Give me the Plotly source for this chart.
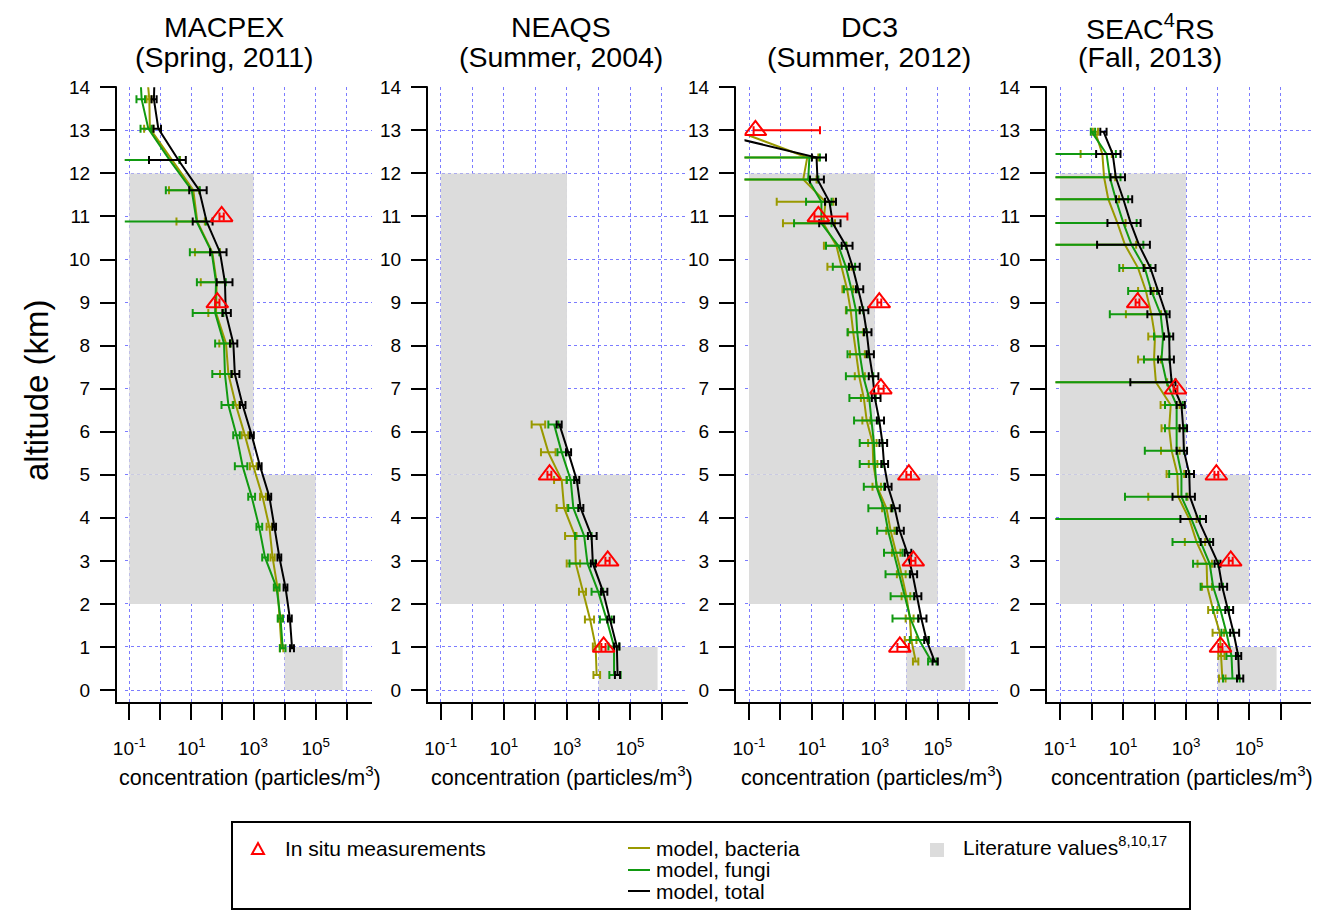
import plotly.graph_objects as go

W, H = 1319, 911

# ---------------- axis ticks ----------------
decade_vals = [0.1, 1, 10, 100, 1e3, 1e4, 1e5, 1e6]
decade_text = ["10<sup>-1</sup>", "", "10<sup>1</sup>", "", "10<sup>3</sup>", "",
               "10<sup>5</sup>", ""]
alt_ticks = list(range(0, 15))

# ---------------- literature ranges (same in every panel) ----------------
lit_x_lo = [0.1, 0.1, 1e4]
lit_x_hi = [1e3, 1e5, 7.4e5]
lit_y_lo = [5, 2, 0]
lit_y_hi = [12, 5, 1]

campaign_names = ["MACPEX", "NEAQS", "DC3", "SEAC<sup>4</sup>RS"]
campaign_seasons = ["(Spring, 2011)", "(Summer, 2004)", "(Summer, 2012)", "(Fall, 2013)"]

# ---------------- MACPEX ----------------
macpex_alt = [0.97, 1.66, 2.38, 3.08, 3.79, 4.49, 5.20, 5.92, 6.62, 7.34,
              8.05, 8.76, 9.47, 10.17, 10.88, 11.61, 12.31, 13.04, 13.72, 14.43]
macpex_bact = [8000, 7060, 5900, 4100, 3230, 1950, 980, 525, 270, 155,
               130, 62, 65, 47, 15.5, 11.5, 2.3, 0.46, 0.44, 0.36]
macpex_bact_lo = [7000, 6200, 5100, 3500, 2630, 1620, 760, 415, 213, 83,
                  79, 35, 20, 13, 3.3, 1.9, 0, 0.3, 0.36, None]
macpex_bact_hi = [9100, 8000, 6800, 4800, 3900, 2500, 1260, 675, 347, 205,
                  182, 100, 120, 83, 27, 17.8, 4.3, 0.6, 0.52, None]
macpex_fungi = [8700, 7400, 5500, 2340, 1510, 870, 445, 282, 155, 120,
                112, 58, 62, 45, 14.8, 10.2, 2.0, 0.41, 0.25, 0.22]
macpex_fungi_lo = [7100, 6000, 4500, 1900, 1240, 675, 250, 222, 93, 47,
                   58, 11, 15, 8.9, 0, 1.5, 0, 0.23, 0.17, None]
macpex_fungi_hi = [10700, 8900, 6800, 2900, 1900, 1120, 630, 360, 224, 195,
                   182, 107, 128, 79, 29.5, 18.6, 4.1, 0.52, 0.32, None]
macpex_total = [17400, 14800, 10700, 6800, 4690, 3230, 1620, 870, 445, 250,
                224, 128, 120, 83, 31, 17.8, 3.8, 0.86, 0.62, 0.66]
macpex_total_lo = [15000, 12800, 9300, 5900, 4100, 2900, 1420, 760, 365, 195,
                   174, 100, 65, 40, 11, 8.5, 0.43, 0.6, 0.52, None]
macpex_total_hi = [20000, 17000, 12300, 7800, 5300, 3700, 1820, 1020, 550, 350,
                   300, 186, 210, 135, 48, 31, 6.6, 1.05, 0.76, None]
macpex_obs_alt = [11, 9]
macpex_obs = [94, 68]
macpex_obs_lo = [80, 58]
macpex_obs_hi = [110, 80]

# ---------------- NEAQS ----------------
neaqs_alt = [0.35, 1.01, 1.64, 2.28, 2.94, 3.58, 4.23, 4.88, 5.52, 6.17]
neaqs_bact = [8700, 8100, 5400, 3160, 1900, 1800, 810, 680, 257, 141]
neaqs_bact_lo = [6900, 6600, 3700, 2400, 980, 870, 470, 390, 150, 76]
neaqs_bact_hi = [11200, 10700, 7200, 4000, 2600, 2000, 1020, 980, 435, 204]
neaqs_fungi = [31000, 31000, 18000, 9800, 4460, 3500, 1590, 1310, 680, 390]
neaqs_fungi_lo = [22000, 20500, 11000, 6000, 1200, 1800, 1100, 980, 500, 257]
neaqs_fungi_hi = [50000, 45000, 26000, 14000, 7800, 6000, 2300, 1700, 980, 537]
neaqs_total = [40000, 38000, 23000, 14000, 6600, 6000, 2700, 2040, 1100, 575]
neaqs_total_lo = [33000, 31000, 19000, 12000, 5700, 4600, 2300, 1700, 930, 470]
neaqs_total_hi = [48000, 46000, 31000, 19000, 8300, 8700, 3300, 2450, 1350, 680]
neaqs_obs_alt = [5, 3, 1]
neaqs_obs = [280, 19500, 14500]
neaqs_obs_lo = [240, 16500, 12300]
neaqs_obs_hi = [320, 22500, 16700]

# ---------------- DC3 ----------------
dc3_alt = [0.66, 1.16, 1.66, 2.18, 2.69, 3.19, 3.70, 4.22, 4.72, 5.25,
           5.74, 6.26, 6.78, 7.29, 7.80, 8.31, 8.82, 9.31, 9.83, 10.32,
           10.84, 11.34, 11.86, 12.37, 12.88]
dc3_bact = [20000, 14400, 12900, 10000, 7060, 4870, 3160, 2340, 1180, 890,
            850, 550, 445, 317, 250, 205, 170, 131, 87, 60,
            23, 27, 5.3, 7.1, 0.1]
dc3_bact_lo = [16200, 8900, 9500, 7060, 5000, 3480, 2300, 1700, 840, 640,
               610, 400, 360, 230, 162, 141, 120, 93, 31, 24,
               1.2, 0.76, 0, 0, None]
dc3_bact_hi = [24000, 20900, 17000, 13300, 9500, 6500, 4200, 3200, 1560, 1200,
               1130, 720, 590, 480, 480, 427, 330, 205, 180, 126,
               54, 48, 14, 16, None]
dc3_fungi = [63000, 25700, 13500, 8900, 6170, 4080, 2630, 1950, 1120, 1000,
             930, 780, 660, 427, 330, 275, 250, 180, 120, 69,
             20, 20, 7.6, 8.3, None]
dc3_fungi_lo = [49000, 12900, 3630, 3160, 2180, 1950, 1180, 620, 445, 330,
                330, 218, 155, 120, 135, 135, 126, 104, 46, 28,
                2.7, 6.5, 0, 0, None]
dc3_fungi_hi = [91000, 52500, 24000, 17400, 12900, 7600, 4870, 3630, 1950, 1740,
                1740, 1290, 1070, 890, 620, 550, 427, 275, 235, 120,
                42, 42, 16, 18, None]
dc3_total = [80000, 43600, 30000, 22000, 15800, 10700, 6170, 4270, 2630, 1950,
             1740, 1380, 1000, 850, 660, 550, 427, 295, 195, 120,
             46, 36, 15, 14, 0.017]
dc3_total_lo = [68000, 37000, 24000, 18000, 13200, 8900, 5000, 3400, 2100, 1600,
                1400, 1150, 800, 640, 550, 450, 330, 250, 150, 88,
                17, 26, 8.7, 10, None]
dc3_total_hi = [100000, 50000, 43600, 30000, 22000, 14400, 8300, 6170, 3390, 2630,
                2450, 1950, 1510, 1290, 930, 780, 620, 427, 330, 195,
                81, 58, 24, 28, None]
dc3_obs_alt = [13, 11, 9, 7, 5, 3, 1]
dc3_obs = [0.16, 16, 1380, 1550, 12000, 16600, 6200]
dc3_obs_lo = [0.14, 12, 1200, 1300, 10000, 14000, 5200]
dc3_obs_hi = [18, 134, 1600, 1900, 14000, 19500, 12000]

# ---------------- SEAC4RS ----------------
seac4rs_alt = [0.27, 0.79, 1.33, 1.86, 2.40, 2.93, 3.44, 3.97, 4.49, 5.02,
               5.56, 6.08, 6.62, 7.15, 7.68, 8.21, 8.73, 9.27, 9.80, 10.34,
               10.85, 11.40, 11.91, 12.45, 12.97]
seac4rs_bact = [14100, 13200, 11700, 7200, 4680, 4470, 2140, 1260, 560, 525,
                347, 290, 325, 110, 96, 103, 79, 53, 30, 11.5,
                6.6, 3.4, 2.5, 2.2, 1.3]
seac4rs_bact_lo = [11000, 10500, 6900, 5000, 3200, 2300, 910, 0, 63, 240,
                   160, 166, 155, 0, 30, 63, 12.3, 30, 10, 0,
                   0, 0, 0, 0.45, 1.1]
seac4rs_bact_hi = [17800, 16500, 16000, 9800, 6600, 6600, 4000, 2140, 1100, 870,
                   620, 620, 620, 250, 160, 190, 160, 93, 49, 26,
                   12, 7.5, 5.6, 4.4, 1.6]
seac4rs_fungi = [29500, 27500, 19000, 12300, 7200, 5600, 2880, 1480, 710, 710,
                 500, 500, 500, 240, 166, 186, 155, 79, 49, 18.6,
                 10.2, 5.9, 3.8, 3.0, 1.0]
seac4rs_fungi_lo = [14800, 19000, 13200, 7200, 2880, 1660, 370, 0, 11.5, 290,
                    49, 214, 214, 0, 46, 96, 3.8, 14.5, 7.6, 0,
                    0, 0, 0, 0, 0.95]
seac4rs_fungi_hi = [50000, 45000, 32000, 23000, 14800, 10500, 5600, 2750, 1020, 1260,
                    850, 910, 780, 347, 300, 300, 240, 120, 74, 44,
                    27, 14.5, 8.3, 5.9, 1.3]
seac4rs_total = [48000, 45000, 32000, 21400, 14000, 10500, 5000, 2400, 1320, 1260,
                 850, 810, 710, 347, 300, 290, 229, 131, 74, 32,
                 17.4, 10.2, 5.9, 4.7, 2.4]
seac4rs_total_lo = [41000, 38000, 25000, 17500, 11500, 8000, 2900, 660, 370, 1000,
                    500, 620, 500, 17, 129, 200, 59, 75, 45, 1.5,
                    3.2, 6, 4, 1.4, 1.9]
seac4rs_total_hi = [65000, 56000, 48000, 31000, 20000, 12300, 7200, 4270, 1900, 1780,
                    1070, 1070, 910, 460, 410, 390, 300, 174, 107, 71,
                    36, 19.5, 11.5, 8.3, 3.0]
seac4rs_obs_alt = [9, 7, 5, 3, 1]
seac4rs_obs = [29, 460, 9100, 26000, 12300]
seac4rs_obs_lo = [25, 400, 7900, 22500, 10600]
seac4rs_obs_hi = [33, 530, 10500, 30000, 14200]

# ---------------- styling ----------------
FONT = "Liberation Sans, Arial, Helvetica, sans-serif"
C_BACT = "#999900"
C_FUNGI = "#119911"
C_TOTAL = "#000000"
C_OBS = "#ff0000"
C_LIT = "#dcdcdc"
C_GRID = "rgba(110,110,255,0.9)"

# pixel geometry of each panel: y-axis line, 10^-1 position, px per decade, right end
geom = [
    dict(axis=116, g0=129.3, dec=31.06, end=372, tcx=224, xtcx=250),
    dict(axis=427, g0=440.7, dec=31.57, end=688, tcx=561, xtcx=562),
    dict(axis=735, g0=749.0, dec=31.47, end=998, tcx=869, xtcx=872),
    dict(axis=1046, g0=1060.0, dec=31.53, end=1311, tcx=1150, xtcx=1182),
]
Y_TOP, Y_BOT = 87.3, 703.0
ALT_MAX = 14.0
ALT_MIN = -(Y_BOT - 690.0) / 43.05

panels = [
    (macpex_alt, macpex_bact, macpex_bact_lo, macpex_bact_hi,
     macpex_fungi, macpex_fungi_lo, macpex_fungi_hi,
     macpex_total, macpex_total_lo, macpex_total_hi,
     macpex_obs_alt, macpex_obs, macpex_obs_lo, macpex_obs_hi),
    (neaqs_alt, neaqs_bact, neaqs_bact_lo, neaqs_bact_hi,
     neaqs_fungi, neaqs_fungi_lo, neaqs_fungi_hi,
     neaqs_total, neaqs_total_lo, neaqs_total_hi,
     neaqs_obs_alt, neaqs_obs, neaqs_obs_lo, neaqs_obs_hi),
    (dc3_alt, dc3_bact, dc3_bact_lo, dc3_bact_hi,
     dc3_fungi, dc3_fungi_lo, dc3_fungi_hi,
     dc3_total, dc3_total_lo, dc3_total_hi,
     dc3_obs_alt, dc3_obs, dc3_obs_lo, dc3_obs_hi),
    (seac4rs_alt, seac4rs_bact, seac4rs_bact_lo, seac4rs_bact_hi,
     seac4rs_fungi, seac4rs_fungi_lo, seac4rs_fungi_hi,
     seac4rs_total, seac4rs_total_lo, seac4rs_total_hi,
     seac4rs_obs_alt, seac4rs_obs, seac4rs_obs_lo, seac4rs_obs_hi),
]


def px(x):
    return x / W


def py(y):
    return 1 - y / H


def err_bars(val, lo, hi, color):
    """Asymmetric error bars; a lower bound of 0 runs off the left edge,
    a missing bound draws no bar at that level."""
    plus, minus = [], []
    for v, l, h in zip(val, lo, hi):
        if v is None or l is None or h is None:
            plus.append("NaN")
            minus.append("NaN")
        else:
            plus.append(h - v)
            minus.append(v - l)
    return dict(type="data", symmetric=False, array=plus, arrayminus=minus,
                color=color, thickness=2, width=4)


fig = go.Figure()
layout = dict(
    width=W, height=H,
    margin=dict(l=0, r=0, t=0, b=0, pad=0, autoexpand=False),
    paper_bgcolor="white", plot_bgcolor="rgba(0,0,0,0)",
    showlegend=False, font=dict(family=FONT, color="black", size=19),
)
shapes, annotations = [], []

for i, (g, data) in enumerate(zip(geom, panels)):
    n = i + 1
    xa, ya = f"x{n}", f"y{n}"
    (alt, b, blo, bhi, f, flo, fhi, t, tlo, thi, oalt, o, olo, ohi) = data

    start = g["g0"] - 4.5
    r0 = -1 - (g["g0"] - start) / g["dec"]
    r1 = -1 + (g["end"] - g["g0"]) / g["dec"]

    layout[f"xaxis{n}"] = dict(
        type="log", domain=[px(start), px(g["end"])], range=[r0, r1],
        anchor=ya, tickmode="array", tickvals=decade_vals, ticktext=decade_text,
        ticks="outside", ticklen=16, tickwidth=2, tickcolor="black",
        showgrid=True, gridcolor=C_GRID, gridwidth=1, griddash="dot",
        showline=False, zeroline=False, ticklabelstandoff=12, automargin=False,
        tickfont=dict(size=19, family=FONT), fixedrange=True,
    )
    layout[f"yaxis{n}"] = dict(
        domain=[py(Y_BOT), py(Y_TOP)], range=[ALT_MIN, ALT_MAX],
        anchor="free", position=px(g["axis"]),
        tickmode="array", tickvals=alt_ticks,
        ticks="outside", ticklen=16, tickwidth=2, tickcolor="black",
        showgrid=True, gridcolor=C_GRID, gridwidth=1, griddash="dot",
        showline=False, zeroline=False, ticklabelstandoff=6, automargin=False,
        tickfont=dict(size=19, family=FONT), fixedrange=True,
    )

    # literature value ranges
    for xl, xh, yl, yh in zip(lit_x_lo, lit_x_hi, lit_y_lo, lit_y_hi):
        fig.add_trace(go.Scatter(
            x=[xl, xh, xh, xl, xl], y=[yl, yl, yh, yh, yl], mode="lines",
            fill="toself", fillcolor=C_LIT, line=dict(width=0, color=C_LIT),
            hoverinfo="skip", xaxis=xa, yaxis=ya))

    # model profiles
    for val, lo, hi, col, nm in [(b, blo, bhi, C_BACT, "model, bacteria"),
                                 (f, flo, fhi, C_FUNGI, "model, fungi"),
                                 (t, tlo, thi, C_TOTAL, "model, total")]:
        fig.add_trace(go.Scatter(
            x=val, y=alt, mode="lines", name=nm,
            line=dict(color=col, width=2),
            error_x=err_bars(val, lo, hi, col),
            xaxis=xa, yaxis=ya))

    # in situ measurements
    fig.add_trace(go.Scatter(
        x=o, y=oalt, mode="markers", name="In situ measurements",
        marker=dict(symbol="triangle-up-open", size=19, color=C_OBS,
                    line=dict(width=2, color=C_OBS)),
        error_x=err_bars(o, olo, ohi, C_OBS),
        xaxis=xa, yaxis=ya))

    # L-shaped axis lines
    shapes.append(dict(type="line", xref="paper", yref="paper",
                       x0=px(g["axis"]), x1=px(g["axis"]),
                       y0=py(Y_BOT + 1), y1=py(Y_TOP - 1),
                       line=dict(color="black", width=2)))
    shapes.append(dict(type="line", xref="paper", yref="paper",
                       x0=px(g["axis"] - 1), x1=px(g["end"]),
                       y0=py(Y_BOT), y1=py(Y_BOT),
                       line=dict(color="black", width=2)))

    # panel titles
    annotations.append(dict(text=campaign_names[i], x=px(g["tcx"]), y=py(27),
                            xref="paper", yref="paper", showarrow=False,
                            xanchor="center", yanchor="middle",
                            font=dict(size=28.5, family=FONT)))
    annotations.append(dict(text=campaign_seasons[i], x=px(g["tcx"]), y=py(57),
                            xref="paper", yref="paper", showarrow=False,
                            xanchor="center", yanchor="middle",
                            font=dict(size=28.5, family=FONT)))
    # x-axis title
    annotations.append(dict(text="concentration (particles/m<sup>3</sup>)",
                            x=px(g["xtcx"]), y=py(776),
                            xref="paper", yref="paper", showarrow=False,
                            xanchor="center", yanchor="middle",
                            font=dict(size=21.5, family=FONT)))

# y-axis title
annotations.append(dict(text="altitude (km)", x=px(36), y=py(390),
                        xref="paper", yref="paper", showarrow=False,
                        textangle=-90, xanchor="center", yanchor="middle",
                        font=dict(size=33, family=FONT)))

# ---------------- legend box ----------------
shapes.append(dict(type="rect", xref="paper", yref="paper",
                   x0=px(232), x1=px(1190), y0=py(909), y1=py(822),
                   line=dict(color="black", width=2), fillcolor="white"))
shapes.append(dict(type="path", xref="paper", yref="paper",
                   path=f"M{px(252)},{py(854)} L{px(264)},{py(854)} L{px(258)},{py(843)} Z",
                   line=dict(color=C_OBS, width=2)))
for yy, col in [(848, C_BACT), (870, C_FUNGI), (891, C_TOTAL)]:
    shapes.append(dict(type="line", xref="paper", yref="paper",
                       x0=px(628), x1=px(650), y0=py(yy), y1=py(yy),
                       line=dict(color=col, width=2)))
shapes.append(dict(type="rect", xref="paper", yref="paper",
                   x0=px(930), x1=px(944), y0=py(857), y1=py(843),
                   line=dict(width=0), fillcolor=C_LIT))

legend_text = [
    ("In situ measurements", 283, 848),
    ("model, bacteria", 654, 848),
    ("model, fungi", 654, 869),
    ("model, total", 654, 891),
    ("Literature values<sup>8,10,17</sup>", 961, 846),
]
for txt, lx, ly in legend_text:
    annotations.append(dict(text=txt, x=px(lx), y=py(ly), xref="paper", yref="paper",
                            showarrow=False, xanchor="left", yanchor="middle",
                            font=dict(size=21, family=FONT)))

layout["shapes"] = shapes
layout["annotations"] = annotations
fig.update_layout(**layout)

fig.write_html("out.html")
